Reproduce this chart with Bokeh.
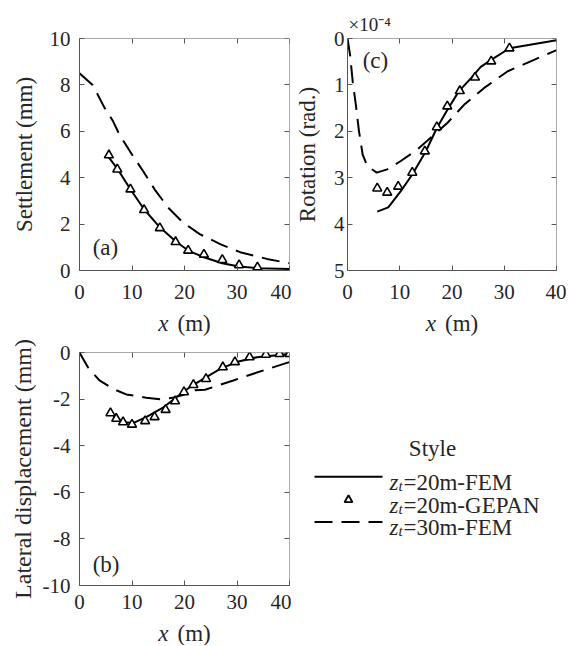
from bokeh.plotting import figure
from bokeh.layouts import column, row
from bokeh.models import Range1d, LinearAxis, FixedTicker, Label, Title
from bokeh.embed import file_html
from bokeh.resources import INLINE

# ---------------- data ----------------
x_ticks = [0, 10, 20, 30, 40]

# (a) settlement (mm)
a_fem20_x = [5.4, 7.2, 9.7, 12.3, 15.3, 18.3, 20.7, 23.7, 27.2, 30.4, 33.9, 40.0]
a_fem20_y = [4.93, 4.39, 3.5, 2.64, 1.86, 1.26, 0.86, 0.57, 0.31, 0.17, 0.10, 0.07]
a_gepan_x = [5.6, 7.2, 9.7, 12.3, 15.3, 18.3, 20.7, 23.7, 27.2, 30.4, 33.9]
a_gepan_y = [4.97, 4.36, 3.5, 2.61, 1.83, 1.23, 0.86, 0.69, 0.46, 0.23, 0.14]
a_fem30_x = [0.0, 2.5, 4.8, 6.4, 7.6, 10.2, 12.1, 14.3, 16.9, 19.7, 22.9, 26.8, 30.6, 35.7, 40.0]
a_fem30_y = [8.5, 8.0, 7.0, 6.43, 5.86, 4.93, 4.29, 3.5, 2.71, 2.07, 1.57, 1.14, 0.79, 0.5, 0.31]
a_yticks = [0, 2, 4, 6, 8, 10]

# (b) lateral displacement (mm)
b_fem20_x = [5.9, 7.0, 8.6, 10.2, 12.7, 15.9, 18.5, 21.0, 23.6, 26.8, 29.9, 33.8, 40.0]
b_fem20_y = [-2.56, -2.84, -2.99, -3.03, -2.77, -2.37, -1.91, -1.49, -1.13, -0.70, -0.41, -0.20, -0.06]
b_gepan_x = [5.9, 7.0, 8.3, 10.0, 12.5, 14.3, 16.4, 18.2, 19.9, 21.7, 24.1, 27.3, 29.6, 32.4, 35.5, 38.1, 40.0]
b_gepan_y = [-2.6, -2.84, -2.99, -3.09, -2.94, -2.77, -2.46, -2.09, -1.7, -1.39, -1.13, -0.63, -0.41, -0.2, -0.09, -0.06, -0.06]
b_fem30_x = [0.0, 1.6, 3.8, 6.4, 8.9, 12.7, 15.6, 18.0, 20.0, 22.0, 23.9, 29.3, 33.8, 38.9, 40.0]
b_fem30_y = [0.0, -0.63, -1.2, -1.56, -1.8, -1.94, -2.01, -1.93, -1.8, -1.62, -1.6, -1.2, -0.86, -0.49, -0.41]
b_yticks = [-10, -8, -6, -4, -2, 0]
b_ytick_labels = ["-10", "-8", "-6", "-4", "-2", "0"]

# (c) rotation (x 1e-4 rad.)
c_fem20_x = [5.7, 7.8, 10.2, 12.4, 15.0, 17.1, 19.1, 21.3, 23.6, 25.5, 27.5, 31.0, 40.0]
c_fem20_y = [3.73, 3.64, 3.29, 2.93, 2.43, 1.93, 1.54, 1.14, 0.86, 0.61, 0.46, 0.21, 0.04]
c_gepan_x = [5.7, 7.6, 9.7, 12.4, 14.8, 17.1, 19.1, 21.5, 24.4, 27.5, 31.0]
c_gepan_y = [3.23, 3.32, 3.19, 2.89, 2.43, 1.91, 1.46, 1.13, 0.84, 0.49, 0.21]
c_fem30_x = [0.0, 0.5, 1.0, 1.6, 2.2, 2.9, 3.8, 5.6, 7.6, 10.2, 13.4, 16.2, 19.1, 22.3, 26.1, 30.6, 35.7, 40.0]
c_fem30_y = [0.0, 0.36, 0.93, 1.43, 2.0, 2.5, 2.75, 2.89, 2.82, 2.64, 2.39, 2.11, 1.82, 1.43, 1.07, 0.71, 0.46, 0.25]
c_yticks = [0, 1, 2, 3, 4, 5]
c_scale = "\u00d710\u207b\u2074"

legend_title = "Style"
legend_rest = ["=20m-FEM", "=20m-GEPAN", "=30m-FEM"]
x_label_var = "x"
x_label_unit = "(m)"

# ---------------- style ----------------
FONT = "Liberation Serif"
TXT = "#262626"
AX = "#555555"
LW = 2.0
DASH = "18 9"
TICK_FS = "21px"
LAB_FS = "23px"

W1, W2 = 291, 275          # column widths (page x 0..291, 291..566)
H1, H2, H3, H4 = 310, 26, 283, 26


def cfg_axis(ax, ticks, show, standoff=8, overrides=None):
    ax.ticker = FixedTicker(ticks=ticks)
    ax.axis_line_color = AX
    ax.axis_line_width = 1
    ax.major_tick_in = 5
    ax.major_tick_out = 0
    ax.major_tick_line_color = AX
    ax.minor_tick_line_color = None
    ax.major_label_text_font = FONT
    ax.axis_label_text_font = FONT
    ax.axis_label_text_font_style = "normal"
    ax.axis_label_text_font_size = LAB_FS
    ax.axis_label_text_color = TXT
    if overrides:
        ax.major_label_overrides = overrides
    if show:
        ax.major_label_text_color = TXT
        ax.major_label_text_font_size = TICK_FS
        ax.major_label_standoff = standoff
    else:
        ax.major_label_text_color = None
        ax.major_label_text_font_size = "1px"
        ax.major_label_standoff = 0
        ax.axis_label_standoff = 0


def make_panel(w, h, yr, yticks, ylabel, mb, ytick_so, ylab_so, xtick_so,
               top_val, overrides=None, ylab_fs=LAB_FS):
    p = figure(width=w, height=h, x_range=Range1d(0, 40), y_range=yr,
               output_backend="svg", toolbar_location=None,
               min_border_left=mb[0], min_border_right=mb[1],
               min_border_top=mb[2], min_border_bottom=mb[3])
    p.grid.visible = False
    p.outline_line_color = None
    p.background_fill_color = "white"
    p.border_fill_color = "white"
    cfg_axis(p.xaxis[0], x_ticks, True, xtick_so)
    cfg_axis(p.yaxis[0], yticks, True, ytick_so, overrides)
    p.yaxis[0].axis_label = ylabel
    p.yaxis[0].axis_label_standoff = ylab_so
    p.yaxis[0].axis_label_text_font_size = ylab_fs
    top = LinearAxis(fixed_location=top_val)
    cfg_axis(top, x_ticks, False)
    p.add_layout(top, "above")
    right = LinearAxis(fixed_location=40)
    cfg_axis(right, yticks, False)
    p.add_layout(right, "right")
    return p


def add_series(p, fx, fy, gx, gy, dx, dy):
    p.line(fx, fy, line_color="black", line_width=LW)
    p.line(dx, dy, line_color="black", line_width=LW, line_dash=DASH)
    p.scatter(gx, gy, marker="triangle", size=9, fill_color="white",
              line_color="black", line_width=1.6)


def add_tag(p, x, y, t):
    p.add_layout(Label(x=x, y=y, text=t, text_font=FONT, text_font_size=LAB_FS,
                       text_color=TXT, text_align="left", text_baseline="middle"))


def blank(w, h, x0, y0):
    """Axis-less strip whose data coordinates equal page pixels."""
    f = figure(width=w, height=h, x_range=Range1d(x0, x0 + w), y_range=Range1d(y0 + h, y0),
               output_backend="svg", toolbar_location=None,
               min_border_left=0, min_border_right=0, min_border_top=0, min_border_bottom=0)
    f.axis.visible = False
    f.grid.visible = False
    f.outline_line_color = None
    f.background_fill_color = "white"
    f.border_fill_color = "white"
    return f


def xlabel_strip(w, h, x0, y0, xc, yc):
    f = blank(w, h, x0, y0)
    f.text(x=[xc - 16], y=[yc], text=[x_label_var], text_font=FONT, text_font_style="italic",
           text_font_size=LAB_FS, text_color=TXT, text_align="right", text_baseline="middle")
    f.text(x=[xc - 7], y=[yc], text=[x_label_unit], text_font=FONT,
           text_font_size=LAB_FS, text_color=TXT, text_align="left", text_baseline="middle")
    return f


# row 1: panels (a) and (c)
pa = make_panel(W1, H1, Range1d(0, 10), a_yticks, "Settlement (mm)",
                (79, 2, 38, 40), 9, 10, 14, top_val=10)
add_series(pa, a_fem20_x, a_fem20_y, a_gepan_x, a_gepan_y, a_fem30_x, a_fem30_y)
add_tag(pa, 2.5, 1.0, "(a)")

pc = make_panel(W2, H1, Range1d(5, 0), c_yticks, "Rotation (rad.)",
                (56, 10, 38, 40), 3, 11, 14, top_val=0)
add_series(pc, c_fem20_x, c_fem20_y, c_gepan_x, c_gepan_y, c_fem30_x, c_fem30_y)
add_tag(pc, 2.9, 0.47, "(c)")
pc.add_layout(Title(text=c_scale, align="left", offset=1, standoff=8,
                    text_font=FONT, text_font_size="19px", text_font_style="normal",
                    text_color=TXT), "above")

# row 2: x labels
xa = xlabel_strip(W1, H2, 0, H1, 184, 323)
xc = xlabel_strip(W2, H2, W1, H1, 451.5, 323)

# row 3: panel (b) and legend
pb = make_panel(W1, H3, Range1d(-10, 0), b_yticks, "Lateral displacement (mm)",
                (79, 2, 16, 34), 9, 4, 9, top_val=0,
                overrides={t: s for t, s in zip(b_yticks, b_ytick_labels)}, ylab_fs="24px")
add_series(pb, b_fem20_x, b_fem20_y, b_gepan_x, b_gepan_y, b_fem30_x, b_fem30_y)
add_tag(pb, 2.5, -9.1, "(b)")

y3 = H1 + H2
pl = blank(W2, H3, W1, y3)
rows = [487, 515, 542]
LEG_FS = "23px"
pl.text(x=[432], y=[453], text=[legend_title], text_font=FONT, text_font_size=LEG_FS,
        text_color=TXT, text_align="center", text_baseline="middle")
pl.line([314, 382], [rows[0], rows[0]], line_color="black", line_width=LW)
pl.scatter([348], [rows[1]], marker="triangle", size=8, fill_color="white",
           line_color="black", line_width=1.8)
pl.line([314, 382], [rows[2], rows[2]], line_color="black", line_width=LW, line_dash=DASH)
pl.text(x=[389] * 3, y=[r + 7 for r in rows], text=["z"] * 3, text_font=FONT,
        text_font_style="italic", text_font_size=LEG_FS, text_color=TXT,
        text_align="left", text_baseline="alphabetic")
pl.text(x=[398] * 3, y=[r + 11 for r in rows], text=["t"] * 3, text_font=FONT,
        text_font_style="italic", text_font_size="15px", text_color=TXT,
        text_align="left", text_baseline="alphabetic")
pl.text(x=[403] * 3, y=[r + 7 for r in rows], text=legend_rest, text_font=FONT,
        text_font_size=LEG_FS, text_color=TXT,
        text_align="left", text_baseline="alphabetic")

# row 4: x label for (b)
xb = xlabel_strip(W1, H4, 0, y3 + H3, 184, 632.5)

layout = column(row(pa, pc), row(xa, xc), row(pb, pl), row(xb))

open("out.html", "w").write(file_html(layout, INLINE))
